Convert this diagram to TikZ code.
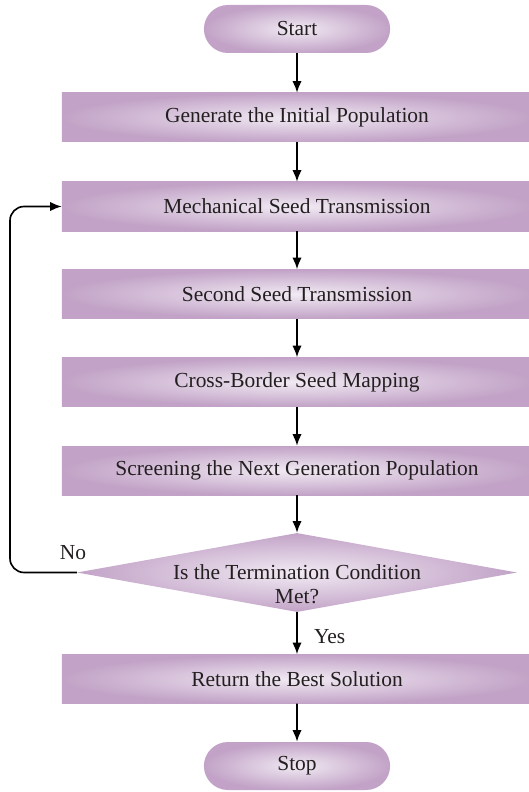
\documentclass[tikz,border=0pt]{standalone}
\usepackage{fontspec}
\setmainfont{Liberation Serif}
\usetikzlibrary{shapes.geometric, shapes.misc, arrows.meta, positioning}

\definecolor{lilacout}{RGB}{194,163,199}
\definecolor{lilacin}{RGB}{241,234,243}
\definecolor{inkgray}{RGB}{35,31,32}

\begin{document}
\begin{tikzpicture}[
    x=0.03cm, y=-0.03cm,
    txt/.style={font=\fontsize{18.3pt}{20pt}\selectfont, text=inkgray},
    terminal/.style={rounded rectangle, inner color=lilacin, outer color=lilacout, minimum width=5.82cm, minimum height=1.44cm, txt},
    process/.style={rectangle, inner color=lilacin, outer color=lilacout, minimum width=14.1cm, minimum height=1.47cm, txt},
    decision/.style={diamond, inner color=lilacin, outer color=lilacout, minimum width=13.2cm, minimum height=2.37cm, inner sep=0pt},
    arrow/.style={-{Latex[length=10pt,width=8pt]}, line width=1.4pt, black}
]
\useasboundingbox (0,0) rectangle (528,792);

% Main column
\node[terminal] (start) at (297,29) {Start};
\node[process] (init) at (297,117.5) {Generate the Initial Population};
\node[process] (mech) at (297,206.5) {Mechanical Seed Transmission};
\node[process] (second) at (297,294) {Second Seed Transmission};
\node[process] (cross) at (297,382) {Cross-Border Seed Mapping};
\node[process] (screen) at (297,470.5) {Screening the Next Generation Population};

% Termination test
\node[decision] (cond) at (297,572.5) {};
\node[txt, align=center] (condtext) at (297,584) {Is the Termination Condition\\Met?};

\node[process] (best) at (297,679) {Return the Best Solution};
\node[terminal] (stop) at (297,766) {Stop};

\draw[arrow] (start) -- (init);
\draw[arrow] (init) -- (mech);
\draw[arrow] (mech) -- (second);
\draw[arrow] (second) -- (cross);
\draw[arrow] (cross) -- (screen);
\draw[arrow] (screen) -- (cond);
\draw[arrow] (cond) -- (best);
\draw[arrow] (best) -- (stop);

% Loop back
\coordinate (back) at (10,206.5);
\draw[arrow, rounded corners=12pt] (cond.west) -| (back) -- (mech.west);

\node[txt] (no) at (73,553) {No};
\node[txt, anchor=west] (yes) at (310,637) {Yes};

\end{tikzpicture}
\end{document}
